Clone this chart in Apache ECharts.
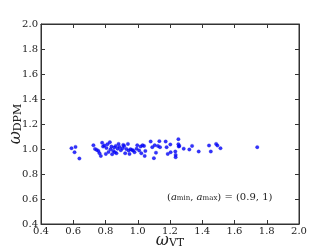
<!DOCTYPE html>
<html><head><meta charset="utf-8">
<script src="https://cdn.jsdelivr.net/npm/echarts@6/dist/echarts.min.js"></script>
<style>html,body{margin:0;padding:0;background:#fff}#c{width:332px;height:249px}</style>
</head><body><div id="c"></div>
<script>
var xVals = [0.589,0.614,0.608,0.638,0.725,0.735,0.746,0.756,0.763,0.771,0.779,0.785,0.793,0.802,0.806,0.812,0.819,0.827,0.831,0.837,0.841,0.848,0.854,0.858,0.864,0.868,0.875,0.881,0.887,0.895,0.906,0.910,0.916,0.922,0.929,0.939,0.943,0.949,0.955,0.964,0.972,0.980,0.993,0.997,1.009,1.018,1.022,1.030,1.039,1.043,1.047,1.080,1.090,1.100,1.105,1.113,1.125,1.134,1.138,1.173,1.179,1.186,1.202,1.204,1.233,1.235,1.235,1.252,1.252,1.254,1.258,1.285,1.320,1.337,1.378,1.442,1.453,1.486,1.494,1.513,1.741];
var yVals = [1.006,1.017,0.974,0.924,1.030,1.001,0.993,0.985,0.966,0.945,1.050,1.020,1.028,0.961,1.009,1.039,0.977,1.055,0.998,1.020,0.958,0.985,1.012,0.974,1.025,0.966,1.003,1.041,1.017,0.990,1.006,1.033,1.025,0.966,1.001,1.041,0.988,0.961,0.998,0.993,0.988,0.974,1.003,1.030,0.988,1.020,0.966,1.030,1.025,0.945,0.985,1.060,1.015,0.927,1.030,0.971,1.025,1.063,1.015,1.060,1.015,0.961,1.036,0.974,0.980,0.953,0.934,1.079,1.039,1.020,1.025,1.003,0.996,1.025,0.980,1.028,0.980,1.041,1.028,1.006,1.015];
var xTicks = [0.4,0.6,0.8,1.0,1.2,1.4,1.6,1.8,2.0];
var yTicks = [0.4,0.6,0.8,1.0,1.2,1.4,1.6,1.8,2.0];
var points = xVals.map(function(x,i){return [x,yVals[i]];});
var F = "'DejaVu Serif','Liberation Serif',serif";
var axisCol = '#333';
function fmt(v){return v.toFixed(1);}
var chart = echarts.init(document.getElementById('c'), null, {renderer:'canvas'});
var baseAxis = {min:0.4,max:2.0,interval:0.2,splitLine:{show:false},
  axisLine:{show:true,onZero:false,lineStyle:{color:axisCol,width:1}},
  axisTick:{show:true,inside:true,length:4,lineStyle:{color:axisCol}}};
chart.setOption({
  animation:false,
  grid:{left:41,right:33,top:24,bottom:25,containLabel:false,outerBoundsMode:'none',
    show:true,borderColor:axisCol,borderWidth:1,backgroundColor:'transparent'},
  xAxis:[
    Object.assign({}, baseAxis, {type:'value',position:'bottom',
      axisLabel:{fontFamily:F,fontSize:10,color:'#222',margin:2,formatter:fmt},
      name:'{w|ω}{s|VT}',nameLocation:'middle',nameGap:7,nameMoveOverlap:false,
      nameTextStyle:{verticalAlign:'top',rich:{w:{fontFamily:F,fontSize:16,fontStyle:'italic',color:'#222',lineHeight:18,verticalAlign:'bottom'},
        s:{fontFamily:F,fontSize:11,color:'#222',padding:[8,0,0,0],lineHeight:18,verticalAlign:'bottom'}}}}),
    Object.assign({}, baseAxis, {type:'value',position:'top',axisLabel:{show:false}})
  ],
  yAxis:[
    Object.assign({}, baseAxis, {type:'value',position:'left',
      axisLabel:{fontFamily:F,fontSize:10,color:'#222',margin:3,formatter:fmt},
      name:'{w|ω}{s|DPM}',nameLocation:'middle',nameGap:17,nameRotate:90,nameMoveOverlap:false,
      nameTextStyle:{verticalAlign:'bottom',rich:{w:{fontFamily:F,fontSize:16,fontStyle:'italic',color:'#222',lineHeight:18,verticalAlign:'bottom'},
        s:{fontFamily:F,fontSize:11,color:'#222',padding:[8,0,0,0],lineHeight:18,verticalAlign:'bottom'}}}}),
    Object.assign({}, baseAxis, {type:'value',position:'right',axisLabel:{show:false}})
  ],
  series:[{type:'scatter',data:points,symbol:'circle',symbolSize:3.5,
    itemStyle:{color:'#0000ff',borderColor:'#0000cc',borderWidth:0.3}}],
  graphic:[{type:'text',left:167,top:191,
    style:{text:'{p|(}{a|a}{s|min}{p|, }{a|a}{s|max}{p|) = (0.9, 1)}',
      rich:{p:{fontFamily:F,fontSize:10,fill:'#222',lineHeight:16,verticalAlign:'bottom'},
        a:{fontFamily:F,fontSize:10,fontStyle:'italic',fill:'#222',lineHeight:16,verticalAlign:'bottom'},
        s:{fontFamily:F,fontSize:7,fill:'#222',padding:[4,0,0,0],lineHeight:16,verticalAlign:'bottom'}}}}]
});
</script></body></html>
